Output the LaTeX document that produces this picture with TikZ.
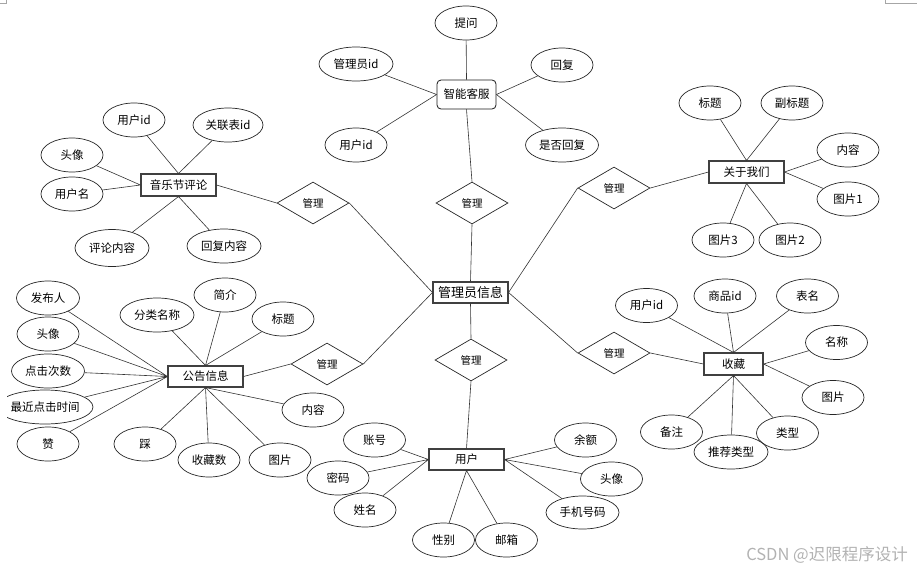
\documentclass[tikz,border=0pt]{standalone}
\usepackage{fontspec}
\setmainfont{Noto Sans CJK SC}
\usetikzlibrary{shapes.geometric}
\tikzset{
  attr/.style={ellipse,draw=black!85,line width=0.7pt,inner sep=0pt,minimum height=34pt,minimum width=62pt,font=\fontsize{11.5}{12}\selectfont},
  attrw/.style={attr,minimum width=74pt},
  entity/.style={rectangle,draw=black!75,line width=1.1pt,inner sep=0pt,minimum width=75pt,minimum height=22pt,font=\fontsize{11.5}{12}\selectfont},
  rel/.style={diamond,draw=black!85,line width=0.7pt,inner sep=0pt,aspect=1.7,minimum width=72pt,minimum height=42pt,font=\fontsize{10.5}{11}\selectfont},
  conn/.style={draw=black!80,line width=0.6pt},
  cornermark/.style={draw=black!35,line width=0.5pt}
}
\begin{document}
\begin{tikzpicture}[x=1pt,y=-1pt]
\useasboundingbox (0,0) rectangle (917,571);
% page corner marks
\coordinate (tl1) at (0,3); \coordinate (tl2) at (6,3); \coordinate (tl3) at (6,0);
\draw[cornermark] (tl1) -- (tl2) -- (tl3);
\coordinate (tr1) at (885,0); \coordinate (tr2) at (885,3); \coordinate (tr3) at (917,3);
\draw[cornermark] (tr1) -- (tr2) -- (tr3);

% ===== central =====
\node[entity,minimum height=21pt,font=\fontsize{13}{14}\selectfont] (gly) at (470.5,292.5) {管理员信息};

% ===== 音乐节评论 =====
\node[entity] (mjc) at (178.5,185) {音乐节评论};
\node[attr] (m_uid) at (134,120) {用户id};
\node[attr,minimum width=70pt] (m_glid) at (228,125) {关联表id};
\node[attr] (m_tx) at (72,155) {头像};
\node[attr] (m_yhm) at (72,194) {用户名};
\node[attrw,minimum height=37pt] (m_plnr) at (112,248) {评论内容};
\node[attrw] (m_hfnr) at (224,246) {回复内容};
\node[rel] (d1) at (313,203) {管理};

% ===== 智能客服 =====
\node[entity,draw=black!90,line width=0.8pt,rounded corners=4pt,minimum width=59pt,minimum height=29pt] (kf) at (466.5,94.5) {智能客服};
\node[attr] (k_tw) at (466,23) {提问};
\node[attrw] (k_glyid) at (356,64) {管理员id};
\node[attr] (k_hf) at (562,65) {回复};
\node[attr] (k_uid) at (356,145) {用户id};
\node[attr,minimum width=73pt] (k_sfhf) at (562,145) {是否回复};
\node[rel] (d2) at (472,203) {管理};

% ===== 关于我们 =====
\node[entity] (gy) at (746.5,172) {关于我们};
\node[attr] (g_bt) at (710,103) {标题};
\node[attr] (g_fbt) at (792,103) {副标题};
\node[attr] (g_nr) at (848,150) {内容};
\node[attr] (g_tp1) at (848,199) {图片1};
\node[attr] (g_tp3) at (723,240) {图片3};
\node[attr] (g_tp2) at (790,240) {图片2};
\node[rel] (d3) at (614,188) {管理};

% ===== 公告信息 =====
\node[entity,minimum height=21pt] (gg) at (205.5,376.5) {公告信息};
\node[attr,minimum width=63pt] (a_fbr) at (48,298) {发布人};
\node[attr] (a_tx) at (48,334) {头像};
\node[attr,minimum width=73pt] (a_djcs) at (48,371) {点击次数};
\node[ellipse,inner sep=0pt,minimum width=96pt,minimum height=34pt,font=\fontsize{11.5}{12}\selectfont] (a_zjsj) at (45,407) {最近点击时间};
\begin{scope}
\clip (7,385) rectangle (120,430);
\draw[draw=black!85,line width=0.7pt] (a_zjsj.center) ellipse [x radius=48, y radius=17];
\end{scope}
\node[attr] (a_z) at (48,444) {赞};
\node[attrw] (a_flmc) at (157,315) {分类名称};
\node[attr] (a_jj) at (225,295) {简介};
\node[attr] (a_bt) at (283,319) {标题};
\node[attr] (a_nr) at (313,410) {内容};
\node[attr] (a_c) at (145,444) {踩};
\node[attr] (a_scs) at (209,460) {收藏数};
\node[attr] (a_tp) at (280,460) {图片};
\node[rel] (d4) at (327,364) {管理};

% ===== 用户 =====
\node[entity,minimum height=21pt] (yh) at (466.5,459.5) {用户};
\node[rel] (d5) at (471,360) {管理};
\node[attr] (u_zh) at (374.5,440) {账号};
\node[attr] (u_mm) at (338,478) {密码};
\node[attr] (u_xm) at (365,510) {姓名};
\node[attr] (u_xb) at (443.5,540) {性别};
\node[attr] (u_yx) at (506.5,540) {邮箱};
\node[attr] (u_ye) at (585.5,440) {余额};
\node[attr] (u_tx) at (611.5,479) {头像};
\node[attr,minimum width=73pt,minimum height=33pt] (u_sjhm) at (582.5,512.5) {手机号码};

% ===== 收藏 =====
\node[entity,minimum width=59pt] (sc) at (733.5,364) {收藏};
\node[rel] (d6) at (614,353) {管理};
\node[attr] (s_uid) at (646.5,305.5) {用户id};
\node[attr] (s_spid) at (725,296) {商品id};
\node[attr] (s_bm) at (807.5,296) {表名};
\node[attr] (s_mc) at (836.5,342.5) {名称};
\node[attr] (s_tp) at (833,397.5) {图片};
\node[attr] (s_bz) at (671.5,432) {备注};
\node[attrw] (s_tjlx) at (731,452) {推荐类型};
\node[attr] (s_lx) at (787.5,433) {类型};

% ===== connectors =====
\path[conn] (mjc.north) -- (m_uid) (mjc.north) -- (m_glid)
  (mjc.west) -- (m_tx) (mjc.west) -- (m_yhm)
  (mjc.south) -- (m_plnr) (mjc.south) -- (m_hfnr)
  (mjc.east) -- (d1.west) (d1.east) -- (gly.west);
\path[conn] (kf.north) -- (k_tw) (kf.west) -- (k_glyid) (kf.west) -- (k_uid)
  (kf.east) -- (k_hf) (kf.east) -- (k_sfhf)
  (kf.south) -- (d2.north) (d2.south) -- (gly.north);
\path[conn] (d3.west) -- (gly.east) (d3.east) -- (gy.west)
  (gy.north) -- (g_bt) (gy.north) -- (g_fbt)
  (gy.east) -- (g_nr) (gy.east) -- (g_tp1)
  (gy.south) -- (g_tp3) (gy.south) -- (g_tp2);
\path[conn] (gg.west) -- (a_fbr) (gg.west) -- (a_tx) (gg.west) -- (a_djcs)
  (gg.west) -- (a_zjsj) (gg.west) -- (a_z)
  (gg.north) -- (a_flmc) (gg.north) -- (a_jj) (gg.north) -- (a_bt)
  (gg.south) -- (a_nr) (gg.south) -- (a_c) (gg.south) -- (a_scs) (gg.south) -- (a_tp)
  (gg.east) -- (d4.west) (d4.east) -- (gly.west);
\path[conn] (gly.south) -- (d5.north) (d5.south) -- (yh.north)
  (yh.west) -- (u_zh) (yh.west) -- (u_mm) (yh.west) -- (u_xm)
  (yh.south) -- (u_xb) (yh.south) -- (u_yx)
  (yh.east) -- (u_ye) (yh.east) -- (u_tx) (yh.east) -- (u_sjhm);
\path[conn] (gly.east) -- (d6.west) (d6.east) -- (sc.west)
  (sc.north) -- (s_uid) (sc.north) -- (s_spid) (sc.north) -- (s_bm)
  (sc.east) -- (s_mc) (sc.east) -- (s_tp)
  (sc.south) -- (s_bz) (sc.south) -- (s_tjlx) (sc.south) -- (s_lx);

% watermark
\node[text=black!30,font=\fontsize{16.5}{17}\selectfont,inner sep=0pt] (wm) at (827,555) {CSDN @迟限程序设计};
\end{tikzpicture}
\end{document}
